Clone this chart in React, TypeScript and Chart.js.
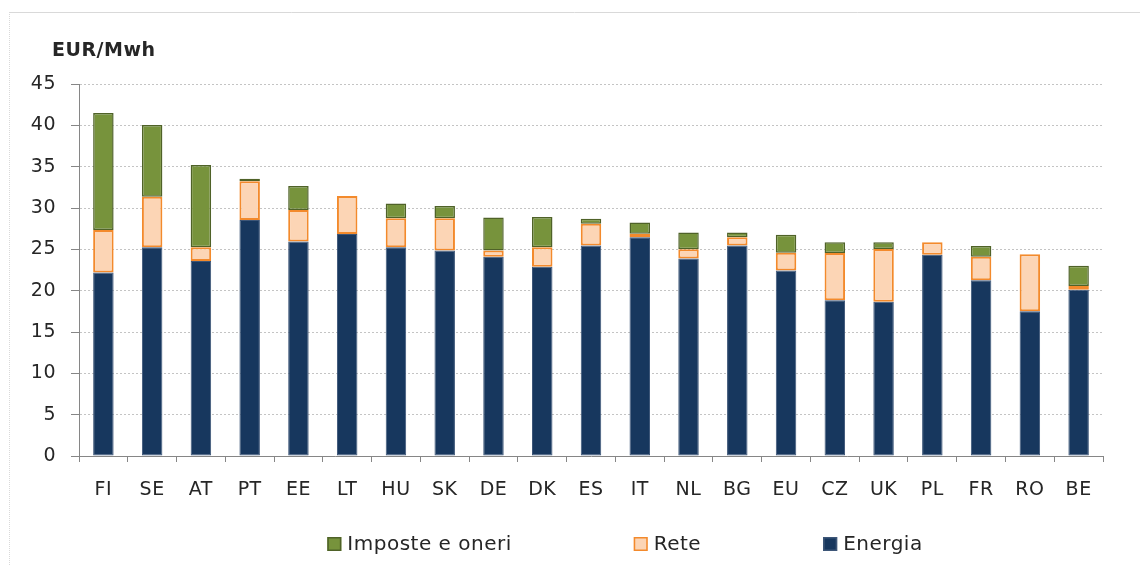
import React, { useEffect, useRef } from "react";
import { Chart, registerables } from "chart.js";

Chart.register(...registerables);

const categories = ["FI", "SE", "AT", "PT", "EE", "LT", "HU", "SK", "DE", "DK", "ES", "IT", "NL", "BG", "EU", "CZ", "UK", "PL", "FR", "RO", "BE"];
const energia = [22.2, 25.25, 23.6, 28.55, 25.95, 26.85, 25.25, 24.85, 24.1, 22.9, 25.45, 26.45, 23.9, 25.45, 22.45, 18.85, 18.65, 24.35, 21.25, 17.5, 20.1];
const rete = [5.15, 6.1, 1.65, 4.7, 3.8, 4.6, 3.5, 3.9, 0.75, 2.35, 2.65, 0.45, 1.1, 1.0, 2.15, 5.7, 6.4, 1.5, 2.85, 6.9, 0.45];
const imposte = [14.15, 8.7, 9.95, 0.3, 2.9, null, 1.8, 1.5, 4.0, 3.65, 0.6, 1.35, 2.05, 0.6, 2.15, 1.3, 0.8, null, 1.3, null, 2.45];
const seriesNames = ["Energia", "Rete", "Imposte e oneri"];
const yTicks = [0, 5, 10, 15, 20, 25, 30, 35, 40, 45];
const unitLabel = "EUR/Mwh";

const FONT = "'DejaVu Sans', sans-serif";
const AXIS = "#868686";
const GRID = "#c4c4c4";
const TEXT = "#262626";

const framePlugin = {
  id: "frame",
  beforeLayout(chart: any) {
    chart.ctx.letterSpacing = "0.5px";
  },
  beforeDraw(chart: any) {
    const ctx = chart.ctx;
    ctx.letterSpacing = "0.5px";
    ctx.save();
    ctx.strokeStyle = "#d9d9d9";
    ctx.lineWidth = 1;
    ctx.beginPath();
    ctx.moveTo(9, 12.5);
    ctx.lineTo(chart.width, 12.5);
    ctx.stroke();
    ctx.setLineDash([1, 1]);
    ctx.beginPath();
    ctx.moveTo(9.5, 12);
    ctx.lineTo(9.5, chart.height);
    ctx.stroke();
    ctx.restore();
  },
  afterDraw(chart: any) {
    const ctx = chart.ctx;
    const area = chart.chartArea;
    ctx.save();
    // unit label
    ctx.font = `bold 19px ${FONT}`;
    ctx.fillStyle = TEXT;
    ctx.textAlign = "left";
    ctx.textBaseline = "alphabetic";
    ctx.fillText(unitLabel, area.left - 27, 56);
    // legend (reversed dataset order)
    ctx.font = `20px ${FONT}`;
    ctx.textBaseline = "middle";
    const items = chart.data.datasets.slice().reverse();
    const box = 14;
    const gap = 122;
    const textGap = 6;
    const y = 544;
    const widths = items.map((d: any) => box + textGap + ctx.measureText(d.label).width);
    const total = widths.reduce((a: number, b: number) => a + b, 0) + gap * (items.length - 1);
    let x = (area.left + area.right) / 2 + 34 - total / 2;
    items.forEach((d: any, i: number) => {
      ctx.fillStyle = d.backgroundColor;
      ctx.fillRect(x, y - box / 2, box, box);
      ctx.strokeStyle = d.borderColor;
      ctx.lineWidth = 1.5;
      ctx.strokeRect(x + 0.75, y - box / 2 + 0.75, box - 1.5, box - 1.5);
      ctx.fillStyle = TEXT;
      ctx.fillText(d.label, x + box + textGap, y + 1);
      x += widths[i] + gap;
    });
    ctx.restore();
  },
};

export default function App() {
  const ref = useRef<HTMLCanvasElement | null>(null);
  useEffect(() => {
    if (!ref.current) return;
    const chart = new Chart(ref.current, {
      type: "bar",
      data: {
        labels: categories,
        datasets: [
          {
            label: seriesNames[0],
            data: energia,
            backgroundColor: "#17375e",
            borderColor: "#3d5678",
            borderWidth: 1,
            borderSkipped: false,
          },
          {
            label: seriesNames[1],
            data: rete,
            backgroundColor: "#fcd5b5",
            borderColor: "#f38a2c",
            borderWidth: 2,
            borderSkipped: false,
          },
          {
            label: seriesNames[2],
            data: imposte,
            backgroundColor: "#77933c",
            borderColor: "#4f6228",
            borderWidth: 1.5,
            borderSkipped: false,
          },
        ],
      },
      options: {
        responsive: false,
        animation: false,
        events: [],
        layout: { padding: { top: 84, right: 37, left: 0, bottom: 59 } },
        datasets: { bar: { barPercentage: 0.42, categoryPercentage: 1 } },
        plugins: {
          legend: { display: false },
          title: { display: false },
          tooltip: { enabled: false },
        },
        scales: {
          x: {
            stacked: true,
            afterFit: (s: any) => {
              s.height = 50;
            },
            grid: {
              display: true,
              offset: true,
              drawOnChartArea: false,
              drawTicks: true,
              tickLength: 6,
              tickColor: AXIS,
              color: AXIS,
            },
            border: { display: true, color: AXIS, width: 1 },
            ticks: {
              color: TEXT,
              font: { family: FONT, size: 19 },
              padding: 17,
              maxRotation: 0,
              autoSkip: false,
            },
          },
          y: {
            stacked: true,
            min: 0,
            max: 45,
            afterFit: (s: any) => {
              s.width = 79;
            },
            afterBuildTicks: (s: any) => {
              s.ticks = yTicks.map((v) => ({ value: v }));
            },
            grid: {
              color: GRID,
              lineWidth: 1,
              drawTicks: true,
              tickLength: 8,
              tickColor: AXIS,
              tickBorderDash: [],
            },
            border: { display: true, color: AXIS, width: 1, dash: [2, 2] },
            ticks: {
              color: TEXT,
              font: { family: FONT, size: 19 },
              padding: 15,
            },
          },
        },
      },
      plugins: [framePlugin],
    });
    return () => chart.destroy();
  }, []);
  return (
    <div style={{ position: "absolute", left: 0, top: 0, width: 1140, height: 565, background: "#fff" }}>
      <canvas ref={ref} width={1140} height={565} style={{ display: "block", width: 1140, height: 565 }} />
    </div>
  );
}
